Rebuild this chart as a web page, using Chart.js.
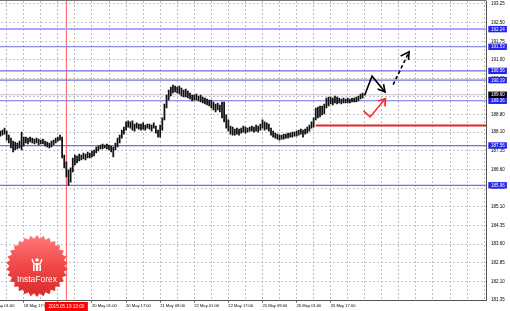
<!DOCTYPE html>
<html>
<head>
<meta charset="utf-8">
<script src="https://cdn.jsdelivr.net/npm/chart.js@4.4.1/dist/chart.umd.min.js"></script>
<style>
    html, body { margin: 0; padding: 0; background: #fff; overflow: hidden; }
    #wrap { position: relative; width: 510px; height: 311px; overflow: hidden; }
    #chart { position: absolute; left: -11px; top: 0; }
</style>
</head>
<body>
<div id="wrap"><canvas id="chart" width="522" height="311"></canvas></div>
<script>
// H1 bars, x = bar number counted from 2015.05.18 01:00
const firstBar = 5;
const barHigh = [
    188.14, 188.18, 188.26, 188.14, 187.98, 187.86, 187.74, 187.70, 187.66, 187.74,
    188.10, 187.90, 187.90, 187.86, 187.90, 187.86, 187.82, 187.86, 187.82, 187.78,
    187.82, 187.74, 187.70, 187.66, 187.74, 187.78, 187.86, 187.90, 187.98, 187.90,
    187.18, 186.90, 186.58, 186.66, 187.06, 187.18, 187.14, 187.22, 187.18, 187.26,
    187.22, 187.30, 187.26, 187.34, 187.38, 187.50, 187.54, 187.58, 187.62, 187.58,
    187.62, 187.58, 187.54, 187.50, 187.66, 187.86, 187.98, 188.18, 188.30, 188.51,
    188.55, 188.51, 188.55, 188.42, 188.47, 188.42, 188.42, 188.47, 188.38, 188.42,
    188.42, 188.38, 188.47, 188.34, 188.18, 188.38, 188.67, 189.23, 189.59, 189.79,
    189.91, 189.99, 189.95, 189.91, 189.95, 189.87, 189.79, 189.83, 189.75, 189.67,
    189.59, 189.59, 189.63, 189.55, 189.59, 189.51, 189.47, 189.43, 189.39, 189.39,
    189.31, 189.23, 189.27, 189.19, 189.31, 189.31, 188.79, 188.59, 188.34, 188.30,
    188.22, 188.26, 188.22, 188.26, 188.34, 188.30, 188.26, 188.30, 188.34, 188.30,
    188.38, 188.34, 188.42, 188.59, 188.51, 188.47, 188.42, 188.26, 188.14, 188.06,
    188.02, 187.98, 187.98, 188.02, 188.02, 188.06, 188.06, 188.10, 188.10, 188.14,
    188.18, 188.22, 188.18, 188.22, 188.30, 188.38, 188.51, 188.67, 189.07, 189.11,
    189.15, 189.15, 189.23, 189.47, 189.51, 189.51, 189.47, 189.55, 189.51, 189.47,
    189.43, 189.47, 189.43, 189.47, 189.43, 189.47, 189.47, 189.51, 189.55, 189.63, 189.67
];
const barLow = [
    187.94, 187.98, 188.02, 187.78, 187.66, 187.46, 187.30, 187.38, 187.42, 187.46,
    187.38, 187.54, 187.66, 187.62, 187.70, 187.66, 187.62, 187.66, 187.58, 187.62,
    187.62, 187.54, 187.50, 187.46, 187.50, 187.58, 187.66, 187.74, 187.78, 187.06,
    186.66, 186.30, 185.97, 186.09, 186.50, 186.78, 186.86, 186.94, 186.98, 187.02,
    186.98, 187.06, 187.06, 187.10, 187.14, 187.26, 187.34, 187.42, 187.42, 187.46,
    187.42, 187.38, 187.30, 187.10, 187.38, 187.50, 187.66, 187.86, 188.02, 188.18,
    188.30, 188.26, 188.18, 188.14, 188.26, 188.22, 188.18, 188.22, 188.18, 188.26,
    188.22, 188.14, 188.26, 188.06, 187.90, 187.90, 188.18, 188.59, 189.07, 189.39,
    189.55, 189.67, 189.71, 189.67, 189.63, 189.55, 189.51, 189.51, 189.47, 189.43,
    189.35, 189.39, 189.39, 189.35, 189.31, 189.27, 189.23, 189.19, 189.15, 189.07,
    188.99, 188.91, 188.99, 188.91, 188.67, 188.51, 188.26, 188.14, 188.02, 187.98,
    187.98, 188.02, 187.98, 188.06, 188.10, 188.06, 188.10, 188.14, 188.14, 188.10,
    188.14, 188.10, 188.18, 188.26, 188.18, 188.22, 188.14, 187.98, 187.90, 187.86,
    187.82, 187.78, 187.82, 187.82, 187.86, 187.86, 187.90, 187.90, 187.94, 187.94,
    187.98, 188.02, 187.90, 188.02, 188.06, 188.14, 188.26, 188.30, 188.59, 188.67,
    188.71, 188.79, 188.83, 189.07, 189.15, 189.23, 189.19, 189.27, 189.23, 189.27,
    189.23, 189.27, 189.27, 189.27, 189.27, 189.31, 189.31, 189.31, 189.35, 189.43, 189.47
];

const timeTicks = [0, 16, 32, 48, 64, 80, 96, 112, 128, 144, 160];
const timeLabels = ['18 May 01:00', '18 May 17:00', '19 May 09:00', '20 May 01:00', '20 May 17:00',
    '21 May 09:00', '22 May 01:00', '22 May 17:00', '25 May 09:00', '26 May 01:00', '26 May 17:00'];
const priceTicks = [193.25, 192.50, 191.75, 191.00, 190.25, 189.55, 188.80, 188.10, 187.35,
    186.60, 185.85, 185.10, 184.35, 183.60, 182.85, 182.10, 181.35];

const levelPrices = [192.24, 191.53, 190.56, 190.19, 189.36, 187.56, 185.96];
const bidPrice = 189.60;
const supportPrice = 188.37;
const supportFrom = 153;
const markerBar = 36;
const markerLabel = '2015.05.19 13:00';

// forecast arrows, [bar, price]
const upDownPath = [[175.9, 189.57], [179.4, 190.35], [185.5, 189.71]];
const upDownHead = [[182.0, 189.83], [185.5, 189.71], [184.8, 190.03]];
const dashedPath = [[189.3, 190.01], [196.8, 191.33]];
const dashedHead = [[192.8, 191.16], [196.8, 191.33], [196.5, 191.00]];
const redPath = [[175.4, 188.95], [178.5, 188.71], [185.7, 189.45]];
const redHead = [[182.2, 189.35], [185.7, 189.45], [185.5, 189.13]];

const X_MIN = -0.3, X_MAX = 233.1;
const Y_MIN = 181.33, Y_MAX = 193.37;

Chart.defaults.font.family = '"Liberation Sans", Arial, sans-serif';

const pts = arr => arr.map(p => ({ x: p[0], y: p[1] }));

function hLine(v, color, width, from) {
    return {
        type: 'line', order: 2,
        data: [{ x: from === undefined ? X_MIN : from, y: v }, { x: X_MAX, y: v }],
        borderColor: color, borderWidth: width, pointRadius: 0
    };
}

function path(arr, color, width, dash) {
    return {
        type: 'line', order: 0,
        data: pts(arr),
        borderColor: color, borderWidth: width, borderDash: dash || [],
        pointRadius: 0, tension: 0
    };
}

const gridBars = [];
for (let v = 0; v <= 232; v += 8) gridBars.push(v);

const lineSets = levelPrices.map((v, k) => k === 0 ? hLine(v, '#a9a9ff', 2) : hLine(v, '#6f6fe6', 1.2));
lineSets.push(hLine(bidPrice, '#c4c4c4', 1));
lineSets.push(hLine(supportPrice, '#e22626', 2, supportFrom));
lineSets.push({
    type: 'line', order: 2,
    data: [{ x: markerBar, y: Y_MIN }, { x: markerBar, y: Y_MAX }],
    borderColor: '#ff5a5a', borderWidth: 1, pointRadius: 0
});

function drawLogo(ctx, cx, cy) {
    const teeth = 30, rOut = 31, rIn = 27.5;
    ctx.beginPath();
    for (let k = 0; k < teeth * 2; k++) {
        const r = k % 2 ? rIn : rOut;
        const a = k * Math.PI / teeth - Math.PI / 2;
        const px = cx + r * Math.cos(a), py = cy + r * Math.sin(a);
        if (k === 0) ctx.moveTo(px, py); else ctx.lineTo(px, py);
    }
    ctx.closePath();
    const g = ctx.createLinearGradient(0, cy - rOut, 0, cy + rOut);
    g.addColorStop(0, '#ff7a7a');
    g.addColorStop(0.5, '#f04848');
    g.addColorStop(1, '#d92a2a');
    ctx.fillStyle = g;
    ctx.fill();
    // little figure icon
    ctx.fillStyle = '#fff';
    ctx.strokeStyle = '#fff';
    ctx.lineWidth = 1.4;
    ctx.beginPath(); ctx.arc(cx, cy - 6, 1.8, 0, Math.PI * 2); ctx.fill();
    ctx.beginPath();
    ctx.moveTo(cx - 5, cy - 7); ctx.lineTo(cx - 3, cy - 2); ctx.lineTo(cx + 3, cy - 2); ctx.lineTo(cx + 5, cy - 7);
    ctx.stroke();
    ctx.fillRect(cx - 1.2, cy - 3, 2.4, 8);
    ctx.fillRect(cx - 4, cy - 1, 1.6, 6);
    ctx.fillRect(cx + 2.4, cy - 1, 1.6, 6);
    ctx.font = '8.5px "Liberation Sans", Arial, sans-serif';
    ctx.textAlign = 'center';
    ctx.textBaseline = 'middle';
    ctx.fillText('InstaForex', cx, cy + 14);
}

const overlay = {
    id: 'overlay',
    afterDraw(chart) {
        const { ctx, chartArea: a, scales: { x, y } } = chart;
        ctx.save();
        // top frame line
        ctx.strokeStyle = '#777';
        ctx.lineWidth = 1;
        ctx.beginPath();
        ctx.moveTo(a.left, a.top - 0.5);
        ctx.lineTo(a.right, a.top - 0.5);
        ctx.stroke();

        // price tags on the axis
        ctx.font = '4.5px "Liberation Sans", Arial, sans-serif';
        ctx.textBaseline = 'middle';
        ctx.textAlign = 'left';
        const tag = (v, bg) => {
            const py = y.getPixelForValue(v);
            ctx.fillStyle = bg;
            ctx.fillRect(a.right + 1.8, py - 3.2, 18.6, 6.4);
            ctx.fillStyle = '#fff';
            ctx.fillText(v.toFixed(2), a.right + 4.5, py + 0.3);
        };
        levelPrices.forEach(v => tag(v, '#2323f2'));
        tag(bidPrice, '#000');

        // time marker tag
        const mx = x.getPixelForValue(markerBar);
        ctx.fillStyle = '#ff0000';
        ctx.fillRect(mx - 21.5, a.bottom + 1.5, 43, 9);
        ctx.fillStyle = '#fff';
        ctx.textAlign = 'center';
        ctx.font = '4.6px "Liberation Sans", Arial, sans-serif';
        ctx.fillText(markerLabel, mx, a.bottom + 6);

        drawLogo(ctx, a.left + 48, a.bottom - 34.5);
        ctx.restore();
    }
};

new Chart(document.getElementById('chart'), {
    type: 'bar',
    data: {
        datasets: [
            path(upDownPath, '#000', 1.6),
            path(upDownHead, '#000', 1.6),
            path(dashedPath, '#000', 1.6, [3.5, 2.5]),
            path(dashedHead, '#000', 1.6),
            path(redPath, '#ff2a2a', 1.6),
            path(redHead, '#ff2a2a', 1.6),
            {
                type: 'bar', order: 1,
                data: barHigh.map((h, k) => ({ x: firstBar + k, y: [barLow[k], h] })),
                backgroundColor: '#111',
                borderWidth: 0,
                barThickness: 1.1
            },
            ...lineSets
        ]
    },
    options: {
        responsive: false,
        animation: false,
        devicePixelRatio: 1,
        layout: { padding: { top: 1, left: 0, right: 0, bottom: 0 } },
        plugins: { legend: { display: false }, tooltip: { enabled: false } },
        scales: {
            x: {
                type: 'linear', min: X_MIN, max: X_MAX, offset: false,
                afterBuildTicks: s => { s.ticks = gridBars.map(v => ({ value: v })); },
                afterFit: s => { s.height = 10.5; s.paddingLeft = 0; s.paddingRight = 0; },
                ticks: {
                    autoSkip: false, maxRotation: 0, minRotation: 0, align: 'start', padding: 1,
                    color: '#000', font: { size: 4.1 },
                    callback: v => {
                        const k = timeTicks.indexOf(v);
                        return k >= 0 ? timeLabels[k] : '';
                    }
                },
                grid: {
                    offset: false, display: true, drawOnChartArea: true,
                    color: '#bdbdbd', lineWidth: 1, tickLength: 2,
                    tickColor: c => (c.tick && timeTicks.includes(c.tick.value)) ? '#555' : 'rgba(0,0,0,0)'
                },
                border: { color: '#555', dash: [2, 2] }
            },
            y: {
                position: 'right', min: Y_MIN, max: Y_MAX,
                afterBuildTicks: s => { s.ticks = priceTicks.map(v => ({ value: v })); },
                afterFit: s => { s.width = 24.5; s.paddingTop = 0; s.paddingBottom = 0; },
                ticks: { padding: 4.5, color: '#000', font: { size: 4.5 }, callback: v => v.toFixed(2) },
                grid: { color: '#c4c4c4', drawTicks: false },
                border: { color: '#555', dash: [2, 2] }
            }
        }
    },
    plugins: [overlay]
});
</script>
</body>
</html>
